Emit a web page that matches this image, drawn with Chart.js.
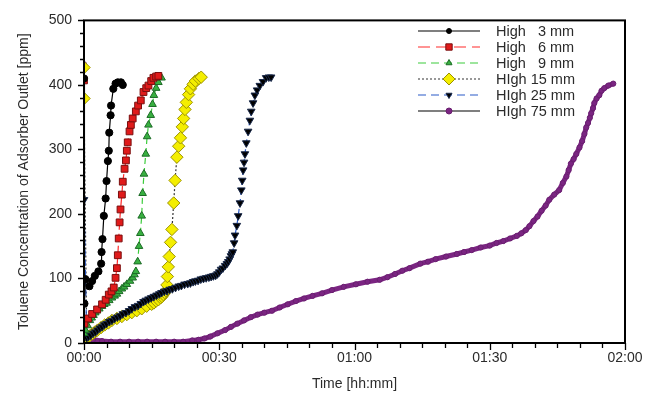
<!DOCTYPE html>
<html>
<head>
<meta charset="utf-8">
<script src="https://cdn.jsdelivr.net/npm/chart.js@4.4.0/dist/chart.umd.min.js"></script>
<style>
    html, body { margin: 0; padding: 0; background: #fff; }
    #wrap { width: 660px; height: 401px; }
</style>
</head>
<body>
<div id="wrap"><canvas id="chart"></canvas></div>
<script>
// time in minutes, concentration in ppm
var seriesNames = ['High   3 mm', 'High   6 mm', 'High   9 mm', 'HIgh 15 mm', 'HIgh 25 mm', 'HIgh 75 mm'];

var t3 = [0, 0.1, 0.3, 1.2, 1.8, 2.4, 3.2, 3.8, 3.9, 4.1, 4.4, 4.8, 5.0, 5.3, 5.5, 5.6, 5.9, 6.0, 6.5, 7.0, 7.5, 8.2, 8.6];
var c3 = [410, 61, 99, 88, 96, 104, 111, 123, 141, 161, 197, 224, 251, 282, 298, 326, 353, 368, 394, 402, 404, 404, 400];

var t6 = [0, 0.1, 0.9, 1.8, 2.9, 4, 4.8, 5.5, 6.1, 6.6, 7, 7.3, 7.5, 7.7, 7.9, 8.1, 8.4, 8.6, 9, 9.3, 9.5, 9.7, 10.1, 10.4, 10.8, 11.5, 12, 12.6, 13.2, 13.8, 14.3, 14.9, 15.4, 16, 16.5];
var c6 = [407, 30, 38, 45, 52, 60, 67, 75, 80, 86, 101, 116, 136, 162, 187, 207, 230, 250, 270, 283, 298, 311, 328, 338, 348, 359, 368, 376, 389, 395, 399, 406, 411, 413, 414];

var t9 = [0, 0.3, 0.8, 1.3, 1.7, 2.1, 2.5, 2.9, 3.4, 4, 4.5, 5, 5.6, 6.2, 6.8, 7.3, 7.8, 8.4, 8.9, 9.5, 10.2, 10.8, 11.2, 11.5, 11.9, 12.2, 12.5, 12.8, 13.0, 13.3, 13.7, 14, 14.3, 14.8, 15.2, 15.5, 16, 16.5, 17.2];
var c9 = [15, 20, 27, 35, 39, 43, 47, 50, 53, 57, 60, 62, 66, 70, 73, 76, 80, 84, 87, 91, 96, 101, 106, 111, 126, 150, 170, 197, 232, 262, 293, 320, 338, 353, 370, 384, 395, 404, 411];

var t15 = [0, 0, 0.6, 1.2, 1.8, 2.4, 3, 3.8, 4.6, 5.4, 6.2, 7.3, 8.4, 9.5, 10.6, 11.7, 12.8, 13.9, 15, 15.5, 16, 16.5, 17, 17.3, 17.6, 17.9, 18.2, 18.4, 18.5, 18.7, 18.9, 19.2, 19.5, 19.9, 20.2, 20.6, 21.0, 21.4, 21.8, 22.1, 22.4, 22.7, 23.2, 23.6, 24.2, 24.7, 25.5, 26];
var c15 = [427, 379, 8, 11, 14, 17, 20, 24, 28, 31, 35, 38, 41, 44, 47, 50, 53, 57, 60, 62, 65, 67, 70, 72, 75, 78, 81, 90, 103, 118, 134, 156, 176, 217, 252, 288, 305, 318, 335, 348, 362, 373, 385, 394, 401, 406, 410, 412];

var t25 = [0, 0.6, 1.0, 1.5, 2.0, 2.5, 3.0, 3.5, 4.0, 4.5, 5.0, 5.6, 6.2, 6.8, 7.4, 8.0, 8.6, 9.3, 10, 10.6, 11.3, 12, 12.6, 13.2, 13.7, 14.3, 14.9, 15.5, 16.1, 16.7, 17.2, 17.8, 18.4, 19, 19.6, 20.3, 21, 21.6, 22.3, 23, 23.6, 24.2, 24.7, 25.3, 25.9, 26.5, 27.1, 27.7, 28.2, 28.7, 29.2, 29.6, 30.0, 30.4, 30.8, 31.3, 31.7, 32, 32.3, 32.6, 32.8, 33, 33.3, 33.5, 33.9, 34.2, 34.6, 34.9, 35.1, 35.3, 35.5, 35.7, 36.0, 36.4, 36.8, 37.1, 37.5, 37.9, 38.4, 39, 39.7, 40.4, 41, 41.5];
var c25 = [222, 8, 10, 12, 15, 17, 20, 23, 25, 28, 30, 33, 35, 38, 40, 42, 45, 47, 50, 53, 56, 58, 61, 64, 66, 68, 70, 72, 74, 76, 78, 80, 81, 83, 84, 86, 88, 89, 91, 92, 93, 95, 96, 97, 99, 100, 101, 102, 103, 104, 105, 107, 110, 114, 116, 120, 123, 126, 130, 135, 138, 141, 155, 167, 182, 197, 217, 237, 252, 268, 280, 293, 310, 328, 345, 359, 372, 384, 392, 399, 405, 411, 412, 412];

var t75 = [0, 0, 1, 2, 4, 6, 8, 10, 12, 14, 16, 18, 20, 22, 24, 25.4, 26.7, 28, 29.6, 31.3, 32.6, 34, 35.5, 37, 38.5, 40, 41.7, 43.4, 45.2, 47, 48.8, 50.7, 52.8, 55, 57.6, 60.3, 62.9, 65.6, 67.3, 69, 70.6, 72.2, 74.6, 76.3, 78, 80.3, 82.7, 84.3, 86, 88, 90, 91.5, 93, 94.5, 96, 97, 98, 98.8, 99.7, 100.6, 101.5, 102.4, 103.2, 104.3, 105.4, 106.2, 107, 107.5, 108, 108.6, 109.2, 109.9, 110.5, 111, 111.4, 111.8, 112.2, 112.5, 112.9, 113.2, 113.7, 114.3, 114.8, 115.4, 116.3, 117.4];
var c75 = [432, 12, 8, 5, 3, 2, 2, 2, 2, 2, 2, 2, 2, 2, 4, 5, 7, 10, 15, 20, 25, 30, 35, 40, 44, 47, 50, 55, 60, 65, 69, 73, 77, 82, 87, 91, 95, 98, 102, 107, 112, 116, 123, 126, 130, 134, 138, 141, 144, 148, 151, 155, 158, 162, 166, 170, 175, 181, 189, 196, 205, 213, 222, 230, 237, 248, 258, 268, 278, 285, 293, 303, 313, 324, 334, 341, 349, 356, 364, 372, 379, 384, 391, 395, 399, 402, 402];

var xTicks = [0, 30, 60, 90, 120];
var yTicks = [0, 100, 200, 300, 400, 500];

function pts(t, c) {
    return t.map(function(v, i) { return { x: v, y: c[i] }; });
}

function hhmm(min) {
    var h = Math.floor(min / 60), m = Math.round(min % 60);
    return (h < 10 ? '0' : '') + h + ':' + (m < 10 ? '0' : '') + m;
}

var tickFont = { family: '"Liberation Sans", Arial, sans-serif', size: 14 };
var textColor = '#2b2b2b';

// legend line look (the legend is drawn by hand inside the plot)
var legendLines = [
    { color: '#000000', dash: [] },
    { color: '#ff2a2a', dash: [12, 6] },
    { color: '#3ccc3c', dash: [8, 5] },
    { color: '#333333', dash: [2, 2] },
    { color: '#2a5ac8', dash: [8, 5] },
    { color: '#000000', dash: [] }
];

var frameTicks = {
    id: 'frameTicks',
    afterDraw: function(chart) {
        var ctx = chart.ctx, a = chart.chartArea;
        var xs = chart.scales.x, ys = chart.scales.y;
        ctx.save();
        ctx.strokeStyle = '#000';
        ctx.lineWidth = 2;
        ctx.strokeRect(a.left, a.top, a.right - a.left, a.bottom - a.top);
        ctx.lineWidth = 1.3;
        ctx.beginPath();
        for (var m = 0; m <= 120; m += 5) {
            var px = Math.round(xs.getPixelForValue(m)) + 0.5;
            var len = (m % 30 === 0) ? 7 : 5;
            ctx.moveTo(px, a.bottom);
            ctx.lineTo(px, a.bottom + len);
        }
        for (var v = 0; v <= 500; v += 20) {
            var py = Math.round(ys.getPixelForValue(v)) + 0.5;
            var l = (v % 100 === 0) ? 6 : 4;
            ctx.moveTo(a.left, py);
            ctx.lineTo(a.left - l, py);
        }
        ctx.stroke();

        // legend
        ctx.font = '14.5px "Liberation Sans", Arial, sans-serif';
        ctx.textBaseline = 'middle';
        chart.data.datasets.forEach(function(ds, i) {
            var y = 31 + i * 16;
            ctx.strokeStyle = legendLines[i].color;
            ctx.lineWidth = 1.2;
            ctx.setLineDash(legendLines[i].dash);
            ctx.beginPath();
            ctx.moveTo(418, y);
            ctx.lineTo(480, y);
            ctx.stroke();
            ctx.setLineDash([]);
            ctx.fillStyle = ds.pointBackgroundColor;
            ctx.strokeStyle = ds.pointBorderColor;
            ctx.lineWidth = 1;
            Chart.helpers.drawPoint(ctx, {
                pointStyle: ds.pointStyle,
                radius: ds.legendRadius,
                rotation: ds.pointRotation || 0,
                borderWidth: 1
            }, 449, y);
            ctx.fillStyle = textColor;
            ctx.fillText(ds.label, 496, y + 1);
        });
        ctx.restore();
    }
};

function series(i, data, o) {
    return Object.assign({
        label: seriesNames[i],
        data: data,
        borderWidth: 1.2,
        pointBorderWidth: 1,
        showLine: true,
        tension: 0
    }, o);
}

var ctx = document.getElementById('chart');
new Chart(ctx, {
    type: 'scatter',
    data: {
        datasets: [
            series(0, pts(t3, c3), { order: 0, borderColor: '#000', pointBackgroundColor: '#000', pointBorderColor: '#000', pointStyle: 'circle', pointRadius: 3.6, legendRadius: 2.5 }),
            series(1, pts(t6, c6), { order: 0, borderColor: '#ff2a2a', borderDash: [8, 4], pointBackgroundColor: '#e01a1a', pointBorderColor: '#7a0f0f', pointStyle: 'rect', pointRadius: 4.8, legendRadius: 4.5 }),
            series(2, pts(t9, c9), { order: 0, borderColor: '#3ccc3c', borderDash: [6, 4], pointBackgroundColor: '#38b040', pointBorderColor: '#1c6a26', pointStyle: 'triangle', pointRadius: 4.4, legendRadius: 3.5 }),
            series(3, pts(t15, c15), { order: 2, borderColor: '#333', borderDash: [2, 2], pointBackgroundColor: '#f4ee00', pointBorderColor: '#9c9200', pointStyle: 'rectRot', pointRadius: 6.2, legendRadius: 6 }),
            series(4, pts(t25, c25), { order: 1, borderColor: '#2a5ac8', borderDash: [6, 4], pointBackgroundColor: '#000', pointBorderColor: '#18284a', pointStyle: 'triangle', pointRotation: 180, pointRadius: 4.4, legendRadius: 3.5 }),
            series(5, pts(t75, c75), {
                order: 3,
                borderColor: '#7b2582', borderWidth: 5, pointBackgroundColor: '#7b2582', pointBorderColor: '#6a1f70', pointStyle: 'circle', pointRadius: 2.6, legendRadius: 3,
                segment: {
                    borderColor: function(s) { return s.p0DataIndex === 0 ? '#000' : undefined; },
                    borderWidth: function(s) { return s.p0DataIndex === 0 ? 1 : undefined; }
                }
            })
        ]
    },
    options: {
        responsive: true,
        maintainAspectRatio: false,
        animation: false,
        layout: { padding: { top: 13, right: 35, bottom: 0, left: 0 } },
        plugins: {
            legend: { display: false },
            tooltip: { enabled: false }
        },
        scales: {
            x: {
                type: 'linear',
                min: 0,
                max: 120,
                afterFit: function(s) { s.height = 58; },
                afterBuildTicks: function(s) { s.ticks = xTicks.map(function(v) { return { value: v }; }); },
                grid: { display: false, drawTicks: false },
                border: { display: false },
                ticks: { font: tickFont, color: textColor, padding: 7, maxRotation: 0, callback: function(v) { return hhmm(v); } },
                title: { display: true, text: 'Time [hh:mm]', font: tickFont, color: textColor, padding: { top: 0, bottom: 8 } }
            },
            y: {
                min: 0,
                max: 500,
                afterFit: function(s) { s.width = 84; },
                afterBuildTicks: function(s) { s.ticks = yTicks.map(function(v) { return { value: v }; }); },
                grid: { display: false, drawTicks: false },
                border: { display: false },
                ticks: { font: tickFont, color: textColor, padding: 12 },
                title: { display: true, text: 'Toluene Concentration of Adsorber Outlet [ppm]', font: tickFont, color: textColor, padding: { top: 16, bottom: 0 } }
            }
        }
    },
    plugins: [frameTicks]
});
</script>
</body>
</html>
